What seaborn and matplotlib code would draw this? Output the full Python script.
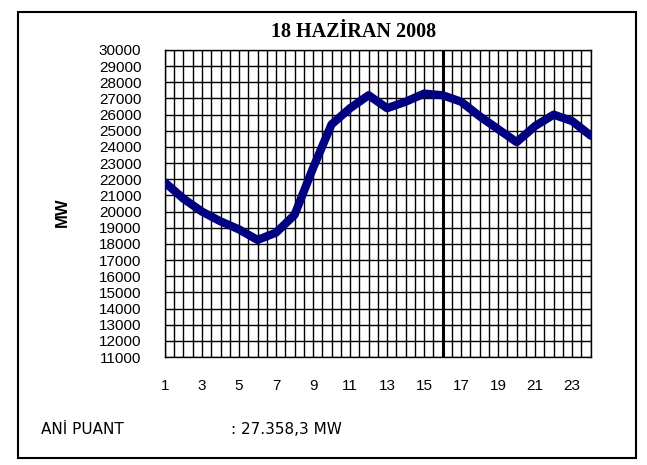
import pandas as pd
import matplotlib.pyplot as plt
import seaborn as sns
from matplotlib.patches import Rectangle
from matplotlib.ticker import MultipleLocator

# saatlik yuk degerleri
saat = list(range(1, 25))
mw = [21800, 20800, 20000, 19400, 18900, 18250, 18700, 19800, 22700, 25400,
      26400, 27200, 26400, 26800, 27300, 27200, 26800, 25900, 25100, 24300,
      25300, 26000, 25600, 24700]
x_etiket = [str(h) if h % 2 == 1 else '' for h in saat]
y_tik = list(range(11000, 30001, 1000))
baslik = '18 HAZİRAN 2008'
puant_yazi = 'ANİ PUANT'
puant_deger = ': 27.358,3 MW'

df = pd.DataFrame({'Saat': saat, 'MW': mw})

sns.set_style('white')
plt.rcParams['font.family'] = ['Liberation Sans', 'DejaVu Sans']
plt.rcParams['text.color'] = 'black'
plt.rcParams['xtick.color'] = 'black'
plt.rcParams['ytick.color'] = 'black'
plt.rcParams['axes.labelcolor'] = 'black'

fig = plt.figure(figsize=(6.47, 4.65), dpi=100)
ax = fig.add_axes([0.255, 0.232, 0.658, 0.6605])

sns.lineplot(data=df, x='Saat', y='MW', ax=ax, color='#000080', linewidth=6,
             solid_joinstyle='round', solid_capstyle='round', zorder=5)

ax.set_xlim(1, 24)
ax.set_ylim(11000, 30000)
ax.set_xticks(saat)
ax.set_xticklabels(x_etiket)
ax.set_yticks(y_tik)
ax.set_yticklabels([str(v) for v in y_tik])
ax.xaxis.set_minor_locator(MultipleLocator(0.5))

ax.set_axisbelow(True)
ax.grid(True, which='both', axis='x', color='black', linewidth=1.0)
ax.grid(True, which='major', axis='y', color='black', linewidth=1.0)
ax.axvline(16, color='black', linewidth=2.2, zorder=3)

ax.tick_params(which='minor', length=0)
ax.tick_params(which='major', direction='out', length=4, width=1, color='black',
               labelsize=11, pad=12)
ax.tick_params(axis='y', pad=13)
for s in ax.spines.values():
    s.set_color('black')
    s.set_linewidth(1.0)

ax.set_xlabel('')
ax.set_ylabel('')
fig.text(0.546, 0.931, baslik, ha='center', va='center', fontsize=14.5,
         fontweight='bold', family=['Liberation Serif', 'DejaVu Serif'])
fig.text(0.097, 0.544, 'MW', ha='center', va='center', rotation=90,
         fontsize=12, fontweight='bold')

fig.text(0.063, 0.077, puant_yazi, ha='left', va='center', fontsize=11,
         family=['DejaVu Sans'])
fig.text(0.357, 0.077, puant_deger, ha='left', va='center', fontsize=11,
         family=['DejaVu Sans'])

fig.patches.append(Rectangle((0.028, 0.015), 0.955, 0.959, transform=fig.transFigure,
                             fill=False, edgecolor='black', linewidth=1.5))

plt.savefig('out.png', dpi=100)
